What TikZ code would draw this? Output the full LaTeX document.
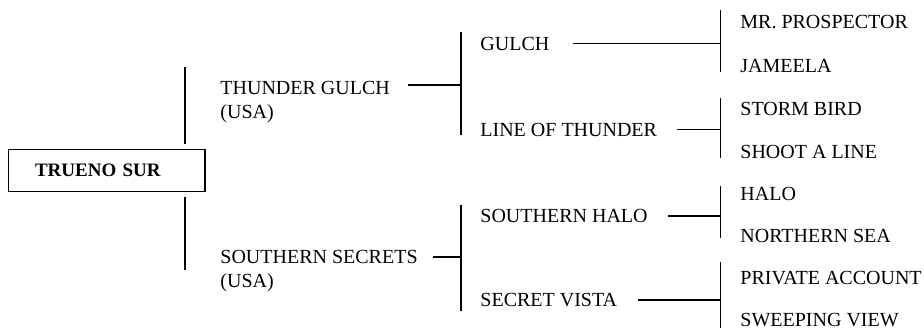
\documentclass[tikz,border=0pt]{standalone}
\usepackage{fontspec}
\setmainfont{Liberation Serif}
\usepackage{tikz}
\usetikzlibrary{calc, positioning}

\begin{document}
\begin{tikzpicture}[x=0.5pt, y=-0.5pt,
    horse/.style={anchor=west, inner sep=0pt, font=\fontsize{10}{12}\selectfont},
    sire/.style={anchor=north west, inner sep=0pt, align=left, font=\fontsize{10}{12}\selectfont},
    link/.style={line width=0.6pt}]
\def\bx{461}
\def\cx{720.5}
\useasboundingbox (0,0) rectangle (924,328);
\node[draw, line width=0.6pt, text width=71.7pt, inner xsep=13.3pt, minimum height=21.2pt,
    align=left, font=\bfseries\fontsize{9.5}{11}\selectfont] (root) at (106.7,170.5) {TRUENO SUR};
\coordinate (rtop) at (185,67);
\coordinate (rbot) at (185,270);
\draw[link] (rtop) -- ([yshift=2.2pt]root.north -| rtop);
\draw[link] ([yshift=-2.2pt]root.south -| rtop) -- (rbot);
\node[sire] (tg) at (220,80.7) {THUNDER GULCH\\(USA)};
\node[sire] (ss) at (220,250) {SOUTHERN SECRETS\\(USA)};
\coordinate (tgtop) at (\bx,32);
\coordinate (tgbot) at (\bx,135);
\coordinate (tgj) at (\bx,85);
\coordinate (sstop) at (\bx,205);
\coordinate (ssbot) at (\bx,311);
\coordinate (ssj) at (\bx,257);
\draw[link] (tgtop) -- (tgbot);
\draw[link] (sstop) -- (ssbot);
\draw[link] ([xshift=9pt]tg.north east |- tgj) -- (tgj);
\draw[link] ([xshift=7.3pt]ss.north east |- ssj) -- (ssj);
\node[horse] (gulch) at (480,43.5) {GULCH};
\node[horse] (lot) at (480,129.7) {LINE OF THUNDER};
\node[horse] (sh) at (480,216) {SOUTHERN HALO};
\node[horse] (sv) at (480,300) {SECRET VISTA};
\coordinate (gtop) at (\cx,10);
\coordinate (gbot) at (\cx,72);
\coordinate (ltop) at (\cx,97.5);
\coordinate (lbot) at (\cx,158);
\coordinate (htop) at (\cx,185.5);
\coordinate (hbot) at (\cx,238);
\coordinate (vtop) at (\cx,261.5);
\coordinate (vbot) at (\cx,328);
\draw[link] (gtop) -- (gbot);
\draw[link] (ltop) -- (lbot);
\draw[link] (htop) -- (hbot);
\draw[link] (vtop) -- (vbot);
\draw[link] ([xshift=11.8pt]gulch.east) -- (gulch.east -| gtop);
\draw[link] ([xshift=9.7pt]lot.east) -- (lot.east -| ltop);
\draw[link] ([xshift=10pt]sh.east) -- (sh.east -| htop);
\draw[link] ([xshift=10.1pt]sv.east) -- (sv.east -| vtop);
\node[horse] (mrp) at (740,22) {MR. PROSPECTOR};
\node[horse] (jam) at (740,66) {JAMEELA};
\node[horse] (stb) at (740,109) {STORM BIRD};
\node[horse] (sal) at (740,152) {SHOOT A LINE};
\node[horse] (halo) at (740,194) {HALO};
\node[horse] (nsea) at (740,236) {NORTHERN SEA};
\node[horse] (pacc) at (740,278) {PRIVATE ACCOUNT};
\node[horse] (swv) at (740,320) {SWEEPING VIEW};
\end{tikzpicture}
\end{document}
